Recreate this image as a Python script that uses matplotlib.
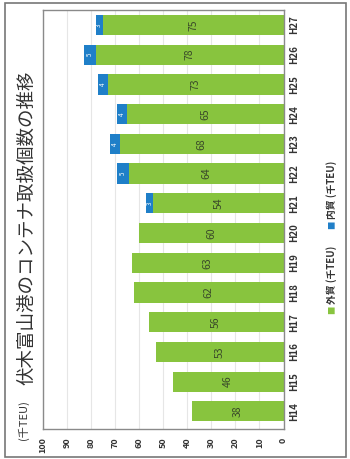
import matplotlib
matplotlib.use('Agg')
import matplotlib.pyplot as plt
from matplotlib.patches import Rectangle

# データ（千TEU）
years = ['H14', 'H15', 'H16', 'H17', 'H18', 'H19', 'H20',
         'H21', 'H22', 'H23', 'H24', 'H25', 'H26', 'H27']
gaibo = [38, 46, 53, 56, 62, 63, 60, 54, 64, 68, 65, 73, 78, 75]  # 外貿
naibo = [0, 0, 0, 0, 0, 0, 0, 3, 5, 4, 4, 4, 5, 3]  # 内貿
val_ticks = [0, 10, 20, 30, 40, 50, 60, 70, 80, 90, 100]

green = '#88c43e'
blue = '#1f7fc8'

plt.rcParams['font.family'] = ['Noto Sans CJK JP', 'DejaVu Sans']

fig = plt.figure(figsize=(3.5, 4.59), dpi=100)
ax = fig.add_axes([0.122, 0.065, 0.688, 0.913])

pos = list(range(len(years)))
ax.barh(pos, gaibo, height=0.68, color=green, zorder=2)
ax.barh(pos, naibo, left=gaibo, height=0.68, color=blue, zorder=2)

# 数値ラベル
for i in pos:
    ax.text(gaibo[i] / 2, i, str(gaibo[i]), rotation=90, ha='center',
            va='center', fontsize=7.5, color='#3a4a2a', zorder=3)
    if naibo[i] > 0:
        ax.text(gaibo[i] + naibo[i] / 2, i, str(naibo[i]), rotation=90,
                ha='center', va='center', fontsize=4.5, color='white', zorder=3)

ax.set_xlim(100, 0)
ax.set_ylim(-0.6, 13.5)
ax.set_xticks(val_ticks)
ax.set_xticklabels([str(v) for v in val_ticks], rotation=90, fontsize=6.5,
                   fontweight='bold', color='#333333')
ax.set_yticks(pos)
ax.set_yticklabels(years, rotation=90, fontsize=7, fontweight='bold',
                   color='#333333', va='center')
ax.yaxis.tick_right()
ax.tick_params(axis='x', length=0, pad=6)
ax.tick_params(axis='y', length=0, pad=4)
ax.grid(axis='x', color='#e6e6e6', linewidth=0.8, zorder=0)
for s in ax.spines.values():
    s.set_color('#8a8a8a')
    s.set_linewidth(1.0)

# タイトルと単位
fig.text(0.077, 0.161, '伏木富山港のコンテナ取扱個数の推移', rotation=90,
         ha='center', va='bottom', fontsize=13.3, color='#333333')
fig.text(0.068, 0.085, '(千TEU)', rotation=90, ha='center', va='center',
         fontsize=8, color='#333333')

# 凡例
fig.text(0.948, 0.325, '■', rotation=90, ha='center', va='center',
         fontsize=6, color=green)
fig.text(0.948, 0.338, '外貿 (千TEU)', rotation=90, ha='center', va='bottom',
         fontsize=7, fontweight='bold', color='#333333')
fig.text(0.948, 0.510, '■', rotation=90, ha='center', va='center',
         fontsize=6, color=blue)
fig.text(0.948, 0.522, '内貿 (千TEU)', rotation=90, ha='center', va='bottom',
         fontsize=7, fontweight='bold', color='#333333')

# 外枠
fig.patches.append(Rectangle((0.014, 0.004), 0.975, 0.989, fill=False,
                             edgecolor='#777777', linewidth=1.2,
                             transform=fig.transFigure, figure=fig))

fig.savefig('out.png', dpi=100)
